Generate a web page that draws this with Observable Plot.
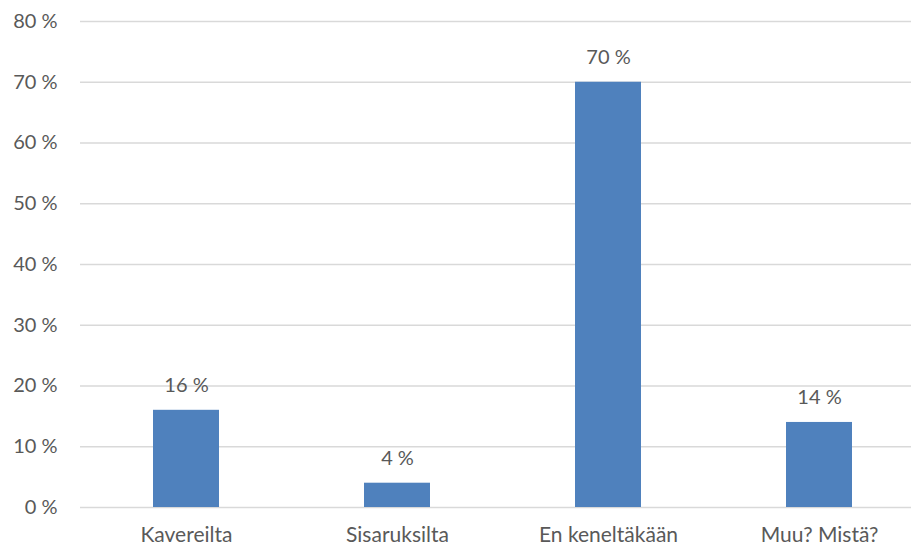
<!DOCTYPE html>
<html>
<head>
<meta charset="utf-8">
<script src="https://cdn.jsdelivr.net/npm/d3@7"></script>
<script src="https://cdn.jsdelivr.net/npm/@observablehq/plot@0.6"></script>
<style>
  body { margin: 0; background: #fff; }
  svg { display: block; }
</style>
</head>
<body>
<div id="chart"></div>
<script>
const categories = ["Kavereilta", "Sisaruksilta", "En keneltäkään", "Muu? Mistä?"];
const values = [16, 4, 70, 14];
const yTicks = [0, 10, 20, 30, 40, 50, 60, 70, 80];

const data = categories.map((c, i) => ({category: c, value: values[i]}));
const textColor = "#595959";

const chart = Plot.plot({
  width: 911,
  height: 546,
  marginLeft: 80,
  marginRight: 0,
  marginTop: 21,
  marginBottom: 39,
  style: {fontFamily: "Lato, 'Open Sans', sans-serif", fontSize: "21px", color: textColor, background: "#fff"},
  x: {domain: categories, range: [80, 925], paddingInner: 0.687, paddingOuter: 0.3435, label: null},
  y: {domain: [0, 80], label: null},
  marks: [
    Plot.gridY(yTicks, {stroke: "#d9d9d9", strokeOpacity: 1, strokeWidth: 1.5}),
    Plot.axisY(yTicks, {tickSize: 0, tickPadding: 23, tickFormat: d => d + " %", fill: textColor, fontSize: 20, label: null}),
    Plot.axisX({tickSize: 0, tickPadding: 20, fill: textColor, fontSize: 21, label: null}),
    Plot.barY(data, {x: "category", y: "value", fill: "#4f81bd"}),
    Plot.text(data, {x: "category", y: "value", text: d => d.value + " %", dy: -25, fill: textColor, fontSize: 20})
  ]
});
document.getElementById("chart").appendChild(chart);
</script>
</body>
</html>
